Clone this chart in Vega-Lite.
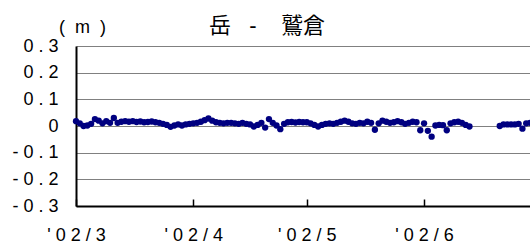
{
  "$schema": "https://vega.github.io/schema/vega-lite/v6.json",
  "width": 454,
  "height": 160,
  "autosize": {"type": "none"},
  "padding": {"left": 76, "top": 46, "right": 0, "bottom": 40},
  "background": "white",
  "config": {
    "view": {"stroke": null},
    "font": "Liberation Sans, Arial, Noto Sans CJK JP"
  },
  "title": {
    "text": "岳\u00a0\u00a0\u00a0-\u00a0\u00a0\u00a0\u00a0鷲倉",
    "font": "Liberation Sans, Noto Sans CJK JP",
    "fontSize": 22,
    "fontWeight": "normal",
    "color": "black",
    "anchor": "middle",
    "frame": "group",
    "dx": -36,
    "offset": -20
  },
  "data": {
    "values": [
      {"date": "2002-03-01", "v": 0.018},
      {"date": "2002-03-02", "v": 0.01},
      {"date": "2002-03-03", "v": 0.0},
      {"date": "2002-03-04", "v": 0.002},
      {"date": "2002-03-05", "v": 0.008},
      {"date": "2002-03-06", "v": 0.026},
      {"date": "2002-03-07", "v": 0.02},
      {"date": "2002-03-08", "v": 0.01},
      {"date": "2002-03-09", "v": 0.018},
      {"date": "2002-03-10", "v": 0.012},
      {"date": "2002-03-11", "v": 0.03},
      {"date": "2002-03-12", "v": 0.012},
      {"date": "2002-03-13", "v": 0.016},
      {"date": "2002-03-14", "v": 0.018},
      {"date": "2002-03-15", "v": 0.016},
      {"date": "2002-03-16", "v": 0.018},
      {"date": "2002-03-17", "v": 0.015},
      {"date": "2002-03-18", "v": 0.017},
      {"date": "2002-03-19", "v": 0.014},
      {"date": "2002-03-20", "v": 0.015},
      {"date": "2002-03-21", "v": 0.017},
      {"date": "2002-03-22", "v": 0.014},
      {"date": "2002-03-23", "v": 0.012},
      {"date": "2002-03-24", "v": 0.008},
      {"date": "2002-03-25", "v": 0.004},
      {"date": "2002-03-26", "v": -0.003},
      {"date": "2002-03-27", "v": 0.002},
      {"date": "2002-03-28", "v": 0.006},
      {"date": "2002-03-29", "v": 0.002},
      {"date": "2002-03-30", "v": 0.006},
      {"date": "2002-03-31", "v": 0.008},
      {"date": "2002-04-01", "v": 0.01},
      {"date": "2002-04-02", "v": 0.012},
      {"date": "2002-04-03", "v": 0.016},
      {"date": "2002-04-04", "v": 0.022},
      {"date": "2002-04-05", "v": 0.028},
      {"date": "2002-04-06", "v": 0.02},
      {"date": "2002-04-07", "v": 0.014},
      {"date": "2002-04-08", "v": 0.012},
      {"date": "2002-04-09", "v": 0.01},
      {"date": "2002-04-10", "v": 0.012},
      {"date": "2002-04-11", "v": 0.012},
      {"date": "2002-04-12", "v": 0.01},
      {"date": "2002-04-13", "v": 0.008},
      {"date": "2002-04-14", "v": 0.012},
      {"date": "2002-04-15", "v": 0.008},
      {"date": "2002-04-16", "v": 0.006},
      {"date": "2002-04-17", "v": -0.002},
      {"date": "2002-04-18", "v": 0.004},
      {"date": "2002-04-19", "v": 0.012},
      {"date": "2002-04-20", "v": -0.006},
      {"date": "2002-04-21", "v": 0.026},
      {"date": "2002-04-22", "v": 0.012},
      {"date": "2002-04-23", "v": 0.002},
      {"date": "2002-04-24", "v": -0.012},
      {"date": "2002-04-25", "v": 0.008},
      {"date": "2002-04-26", "v": 0.014},
      {"date": "2002-04-27", "v": 0.015},
      {"date": "2002-04-28", "v": 0.013},
      {"date": "2002-04-29", "v": 0.015},
      {"date": "2002-04-30", "v": 0.014},
      {"date": "2002-05-01", "v": 0.014},
      {"date": "2002-05-02", "v": 0.01},
      {"date": "2002-05-03", "v": 0.004},
      {"date": "2002-05-04", "v": -0.002},
      {"date": "2002-05-05", "v": 0.004},
      {"date": "2002-05-06", "v": 0.008},
      {"date": "2002-05-07", "v": 0.01},
      {"date": "2002-05-08", "v": 0.008},
      {"date": "2002-05-09", "v": 0.012},
      {"date": "2002-05-10", "v": 0.016},
      {"date": "2002-05-11", "v": 0.02},
      {"date": "2002-05-12", "v": 0.016},
      {"date": "2002-05-13", "v": 0.01},
      {"date": "2002-05-14", "v": 0.008},
      {"date": "2002-05-15", "v": 0.012},
      {"date": "2002-05-16", "v": 0.01},
      {"date": "2002-05-17", "v": 0.016},
      {"date": "2002-05-18", "v": 0.012},
      {"date": "2002-05-19", "v": -0.014},
      {"date": "2002-05-20", "v": 0.01},
      {"date": "2002-05-21", "v": 0.02},
      {"date": "2002-05-22", "v": 0.016},
      {"date": "2002-05-23", "v": 0.012},
      {"date": "2002-05-24", "v": 0.014},
      {"date": "2002-05-25", "v": 0.018},
      {"date": "2002-05-26", "v": 0.014},
      {"date": "2002-05-27", "v": 0.008},
      {"date": "2002-05-28", "v": 0.012},
      {"date": "2002-05-29", "v": 0.016},
      {"date": "2002-05-30", "v": 0.014},
      {"date": "2002-05-31", "v": -0.016},
      {"date": "2002-06-01", "v": 0.01},
      {"date": "2002-06-02", "v": -0.018},
      {"date": "2002-06-03", "v": -0.04},
      {"date": "2002-06-04", "v": 0.002},
      {"date": "2002-06-05", "v": 0.004},
      {"date": "2002-06-06", "v": 0.003},
      {"date": "2002-06-07", "v": -0.016},
      {"date": "2002-06-08", "v": 0.01},
      {"date": "2002-06-09", "v": 0.014},
      {"date": "2002-06-10", "v": 0.016},
      {"date": "2002-06-11", "v": 0.012},
      {"date": "2002-06-12", "v": 0.004},
      {"date": "2002-06-13", "v": -0.002},
      {"date": "2002-06-21", "v": 0.0},
      {"date": "2002-06-22", "v": 0.006},
      {"date": "2002-06-23", "v": 0.006},
      {"date": "2002-06-24", "v": 0.006},
      {"date": "2002-06-25", "v": 0.006},
      {"date": "2002-06-26", "v": 0.008},
      {"date": "2002-06-27", "v": -0.01},
      {"date": "2002-06-28", "v": 0.01},
      {"date": "2002-06-29", "v": 0.012}
    ]
  },
  "mark": {"type": "point", "filled": true, "opacity": 1, "size": 40, "color": "#000080", "clip": false},
  "encoding": {
    "x": {
      "field": "date",
      "type": "temporal",
      "scale": {
        "type": "utc",
        "domain": [
          {"year": 2002, "month": 3, "date": 1, "utc": true},
          {"year": 2002, "month": 6, "date": 29, "utc": true}
        ]
      },
      "axis": {
        "title": null,
        "grid": false,
        "tickCount": {"interval": "month", "step": 1},
        "tickSize": -7,
        "tickColor": "black",
        "tickWidth": 1.5,
        "domainColor": "black",
        "domainWidth": 2,
        "labelExpr": "\"' 0 2 / \" + utcFormat(datum.value, '%-m')",
        "labelFont": "Liberation Sans",
        "labelFontSize": 18,
        "labelColor": "black",
        "labelPadding": 27,
        "labelBaseline": "top",
        "labelFlush": false,
        "labelOverlap": false
      }
    },
    "y": {
      "field": "v",
      "type": "quantitative",
      "scale": {"domain": [-0.3, 0.3], "nice": false, "zero": false},
      "axis": {
        "title": "(\u00a0\u00a0m\u00a0\u00a0)",
        "titleAngle": 0,
        "titleX": 6,
        "titleY": -19,
        "titleAlign": "center",
        "titleBaseline": "middle",
        "titleFont": "Liberation Sans",
        "titleFontSize": 18,
        "titleFontWeight": "normal",
        "titleColor": "black",
        "values": [-0.3, -0.2, -0.1, 0, 0.1, 0.2, 0.3],
        "ticks": false,
        "grid": true,
        "gridColor": "#808080",
        "gridWidth": 1.2,
        "domainColor": "black",
        "domainWidth": 2,
        "labelExpr": "datum.value == 0 ? '0' : (datum.value < 0 ? '- 0 . ' : '0 . ') + format(abs(datum.value) * 10, '.0f')",
        "labelFont": "Liberation Sans",
        "labelFontSize": 18,
        "labelColor": "black",
        "labelPadding": 18,
        "labelBaseline": "middle",
        "labelOverlap": false,
        "labelFlush": false
      }
    }
  }
}
